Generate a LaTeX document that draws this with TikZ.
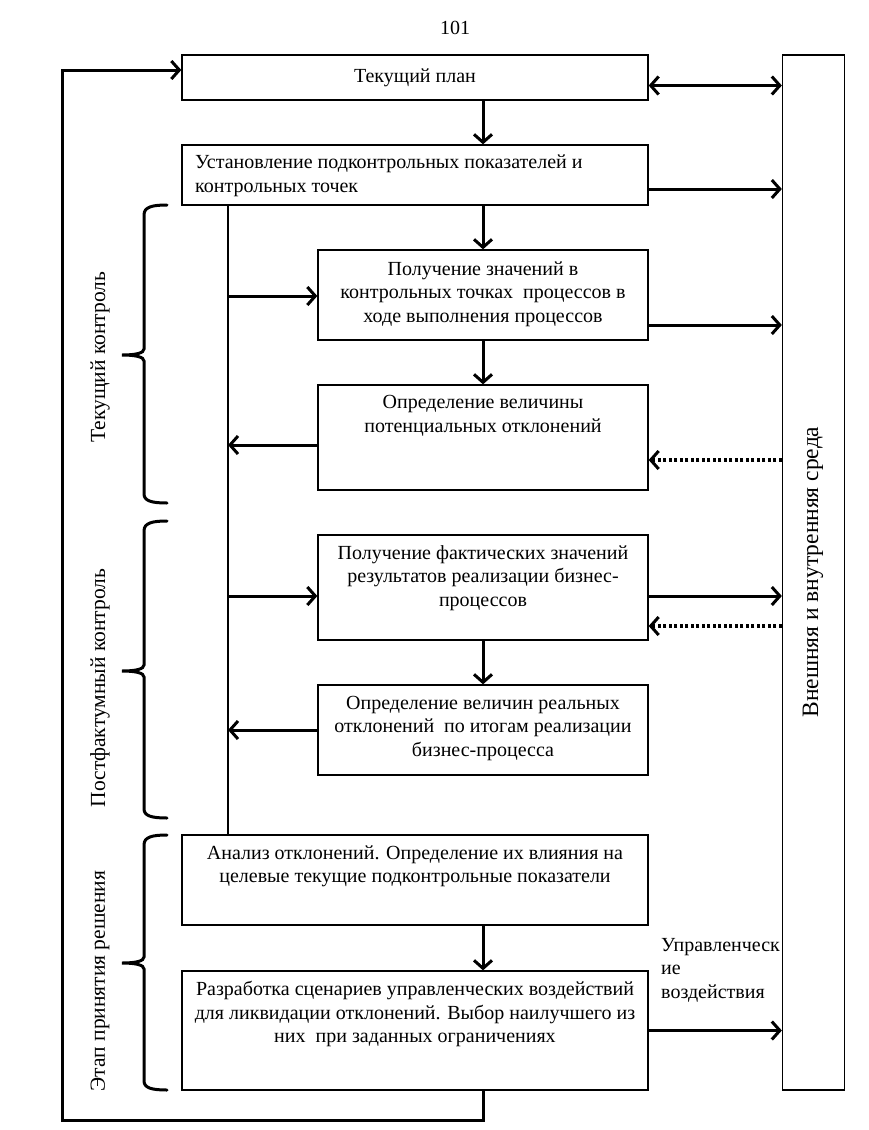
\documentclass[tikz,border=0pt]{standalone}
\usepackage{fontspec}
\setmainfont{Liberation Serif}
\usetikzlibrary{arrows.meta}
\begin{document}
\begin{tikzpicture}[x=1pt,y=-1pt,
  box/.style={draw, line width=1.3pt, inner sep=0pt},
  txt/.style={font=\fontsize{20}{23.5}\selectfont, align=center, inner sep=0pt},
  toptxt/.style={txt, anchor=north, yshift=-11pt},
  side/.style={font=\fontsize{21.5}{24}\selectfont, rotate=90, inner sep=0pt},
  arr/.style={line width=3pt, -{Straight Barb[length=8pt,width=18pt,line width=3pt]}},
  darr/.style={line width=3pt, {Straight Barb[length=8pt,width=18pt,line width=3pt]}-{Straight Barb[length=8pt,width=18pt,line width=3pt]}},
  dotarr/.style={line width=3.5pt, dash pattern=on 3pt off 2.5pt, -{Straight Barb[length=8pt,width=18pt,line width=3pt]}},
  bus/.style={line width=2.5pt},
  brc/.style={line width=3pt, line cap=round},
]
\fill[white] (0,0) rectangle (868,1130);
\useasboundingbox (0,0) rectangle (868,1130);

\node[txt] (pg) at (455,28) {101};

% boxes
\node[box, minimum width=466pt, minimum height=45pt] (b1) at (415,77.5) {};
\node[txt] (t1) at (b1) {Текущий план};
\node[box, minimum width=466pt, minimum height=60pt] (b2) at (415,175) {};
\node[txt, align=left, anchor=west] (t2) at (195,176) {Установление подконтрольных показателей и\\контрольных точек};
\node[box, minimum width=330pt, minimum height=90pt] (b3) at (483,295) {};
\node[txt] (t3) at (483,294) {Получение значений в\\контрольных точках\ \ процессов в\\ходе выполнения процессов};
\node[box, minimum width=330pt, minimum height=105pt] (b4) at (483,437.5) {};
\node[toptxt] (t4) at (b4.north) {Определение величины\\потенциальных отклонений};
\node[box, minimum width=330pt, minimum height=105pt] (b5) at (483,587.5) {};
\node[toptxt] (t5) at (b5.north) {Получение фактических значений\\результатов реализации бизнес-\\процессов};
\node[box, minimum width=330pt, minimum height=90pt] (b6) at (483,730) {};
\node[txt] (t6) at (483,728) {Определение величин реальных\\отклонений\ \ по итогам реализации\\бизнес-процесса};
\node[box, minimum width=466pt, minimum height=90pt] (b7) at (415,880) {};
\node[toptxt] (t7) at (b7.north) {Анализ отклонений. Определение их влияния на\\целевые текущие подконтрольные показатели};
\node[box, minimum width=466pt, minimum height=119pt] (b8) at (415,1030.5) {};
\node[toptxt] (t8) at (b8.north) {Разработка сценариев управленческих воздействий\\для ликвидации отклонений. Выбор наилучшего из\\них\ \ при заданных ограничениях};

% environment
\node[box, minimum width=62pt, minimum height=1035pt] (env) at (813.5,572.5) {};
\node[side, font=\fontsize{23.5}{26}\selectfont] (tenv) at (813,572) {Внешняя и внутренняя среда};

% label
\node[txt, align=left, anchor=north west] (ctl) at (661,938) {Управленческ\\ие\\воздействия};

% side braces and labels
\coordinate (busx) at (228,500);
\coordinate (loopc) at (62,1120);
\draw[brc] (167,205) .. controls (152,205) and (144,207) .. (144,215) -- (144,349) .. controls (144,353) and (136,355) .. (122,355) .. controls (136,355) and (144,357) .. (144,361) -- (144,494) .. controls (144,501) and (152,503) .. (167,503);
\draw[brc] (167,521) .. controls (152,521) and (144,523) .. (144,531) -- (144,665) .. controls (144,669) and (136,671) .. (122,671) .. controls (136,671) and (144,673) .. (144,677) -- (144,809) .. controls (144,816) and (152,818) .. (167,818);
\draw[brc] (167,835) .. controls (152,835) and (144,837) .. (144,845) -- (144,957) .. controls (144,961) and (136,963) .. (122,963) .. controls (136,963) and (144,965) .. (144,969) -- (144,1081) .. controls (144,1088) and (152,1090) .. (167,1090);
\node[side] (s1) at (100,357) {Текущий контроль};
\node[side] (s2) at (100,688) {Постфактумный контроль};
\node[side] (s3) at (100,981) {Этап принятия решения};

% connectors
\draw[darr] ([yshift=-8pt]b1.east) -- ([yshift=-8pt]b1.east -| env.west);
\draw[arr] (b3.north |- b1.south) -- (b3.north |- b2.north);
\draw[arr] ([yshift=-14pt]b2.east) -- ([yshift=-14pt]b2.east -| env.west);
\draw[bus] (b2.south -| busx) -- (b7.north -| busx);
\draw[arr] (b2.south -| b3.north) -- (b3.north);
\draw[arr] ([yshift=-1pt]b3.west -| busx) -- ([yshift=-1pt]b3.west);
\draw[arr] ([yshift=-30pt]b3.east) -- ([yshift=-30pt]b3.east -| env.west);
\draw[arr] (b3.south) -- (b4.north);
\draw[arr] ([yshift=-7.5pt]b4.west) -- ([yshift=-7.5pt]b4.west -| busx);
\draw[dotarr] ([yshift=-22.5pt]b4.east -| env.west) -- ([yshift=-22.5pt]b4.east);
\draw[arr] ([yshift=-8.5pt]b5.west -| busx) -- ([yshift=-8.5pt]b5.west);
\draw[arr] ([yshift=-8.5pt]b5.east) -- ([yshift=-8.5pt]b5.east -| env.west);
\draw[dotarr] ([yshift=-38.5pt]b5.east -| env.west) -- ([yshift=-38.5pt]b5.east);
\draw[arr] (b5.south) -- (b6.north);
\draw[arr] (b6.west) -- (b6.west -| busx);
\draw[arr] (b3.south |- b7.south) -- (b3.south |- b8.north);
\draw[arr] (b8.east) -- (b8.east -| env.west);
\draw[arr] (b3.south |- b8.south) -- (b3.south |- loopc) -- (loopc) |- ([yshift=7.5pt]b1.west);
\end{tikzpicture}
\end{document}
